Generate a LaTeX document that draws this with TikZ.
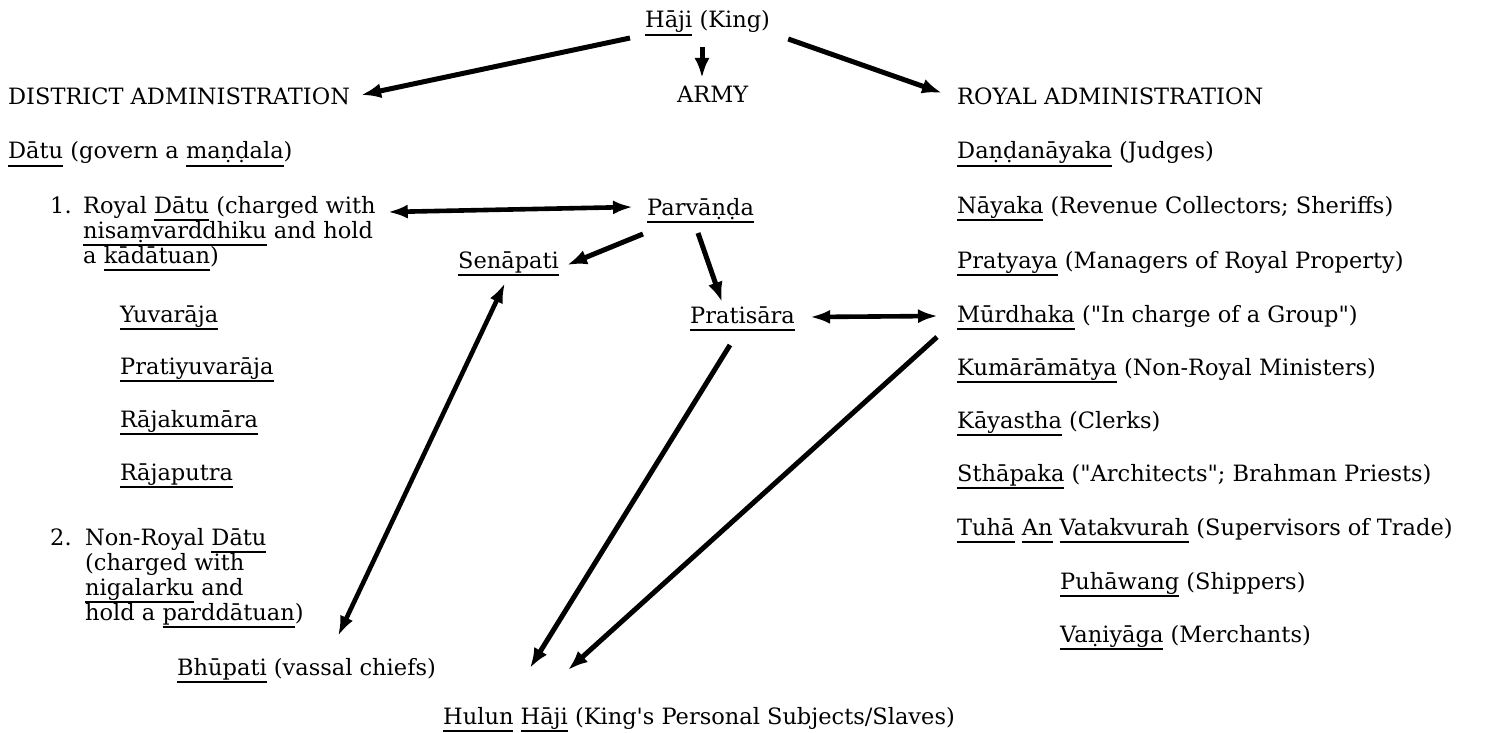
\documentclass[tikz,border=0pt]{standalone}
\usepackage{fontspec}
\setmainfont{DejaVu Serif}
\newfontfamily\qfont{DejaVu Serif}
\usetikzlibrary{arrows.meta,calc}
\newsavebox\ulbox
\newcommand\uln[1]{\sbox\ulbox{#1}\rlap{\rule[-0.34em]{\wd\ulbox}{0.065em}}\usebox\ulbox}
\newcommand\sq{{\qfont"}}
\newcommand\ap{{\qfont'}}
\begin{document}
\begin{tikzpicture}[x=1pt,y=-1pt,
  lbl/.style={anchor=base west,inner sep=0pt,font=\fontsize{22.5}{24}\selectfont},
  arr/.style={line width=5pt,-{Latex[length=20pt,width=15pt]}},
  darr/.style={line width=4.6pt,{Latex[length=20pt,width=14pt]}-{Latex[length=20pt,width=14pt]}}]
\useasboundingbox (0,0) rectangle (1492,733);
% top / middle
\node[lbl] (haji) at (645,28) {\uln{Hāji} (King)};
\node[lbl] (army) at (677,103) {ARMY};
\node[lbl] (parv) at (647,215) {\uln{Parvāṇḍa}};
\node[lbl] (sena) at (458,268) {\uln{Senāpati}};
\node[lbl] (prat) at (690,323) {\uln{Pratisāra}};
\node[lbl] (hulun) at (443,724) {\uln{Hulun} \uln{Hāji} (King\ap s Personal Subjects/Slaves)};
% left column
\node[lbl] (dist) at (8,105) {DISTRICT ADMINISTRATION};
\node[lbl] (datu) at (8,159) {\uln{Dātu} (govern a \uln{maṇḍala})};
\node[lbl] (n1) at (50,213) {1.};
\node[lbl] (rd1) at (83,213) {Royal \uln{Dātu} (charged with};
\node[lbl] (rd2) at (83,238) {\uln{nisaṃvarddhiku} and hold};
\node[lbl] (rd3) at (83,263) {a \uln{kādātuan})};
\node[lbl] (yuv) at (120,322) {\uln{Yuvarāja}};
\node[lbl] (pyuv) at (120,374) {\uln{Pratiyuvarāja}};
\node[lbl] (rkum) at (120,427) {\uln{Rājakumāra}};
\node[lbl] (rput) at (120,480) {\uln{Rājaputra}};
\node[lbl] (n2) at (50,545) {2.};
\node[lbl] (nr1) at (85,545) {Non-Royal \uln{Dātu}};
\node[lbl] (nr2) at (85,570) {(charged with};
\node[lbl] (nr3) at (85,595) {\uln{nigalarku} and};
\node[lbl] (nr4) at (85,620) {hold a \uln{parddātuan})};
\node[lbl] (bhu) at (177,675) {\uln{Bhūpati} (vassal chiefs)};
% right column
\node[lbl] (royal) at (957,105) {ROYAL ADMINISTRATION};
\node[lbl] (dand) at (957,159) {\uln{Daṇḍanāyaka} (Judges)};
\node[lbl] (naya) at (957,213) {\uln{Nāyaka} (Revenue Collectors; Sheriffs)};
\node[lbl] (praty) at (957,268) {\uln{Pratyaya} (Managers of Royal Property)};
\node[lbl] (murd) at (957,322) {\uln{Mūrdhaka} (\sq In charge of a Group\sq)};
\node[lbl] (kuma) at (957,375) {\uln{Kumārāmātya} (Non-Royal Ministers)};
\node[lbl] (kaya) at (957,428) {\uln{Kāyastha} (Clerks)};
\node[lbl] (stha) at (957,481) {\uln{Sthāpaka} (\sq Architects\sq; Brahman Priests)};
\node[lbl] (tuha) at (957,535) {\uln{Tuhā} \uln{An} \uln{Vatakvurah} (Supervisors of Trade)};
\node[lbl] (puha) at (1060,589) {\uln{Puhāwang} (Shippers)};
\node[lbl] (vani) at (1060,642) {\uln{Vaṇiyāga} (Merchants)};
% connectors
\draw[arr] ($(haji.base west)+(-15,10)$) -- ($(dist.base east)+(11,-10)$);
\draw[arr] ($(haji.base west)+(57,19)$) -- ($(army.base west)+(25,-25)$);
\draw[arr] ($(haji.base east)+(18,11)$) -- ($(royal.base west)+(-15,-12)$);
\draw[darr] ($(rd1.base east)+(12,-1)$) -- ($(parv.base west)+(-14,-8)$);
\draw[arr] ($(parv.base west)+(-4,19)$) -- ($(sena.base east)+(8,-3)$);
\draw[arr] ($(parv.base west)+(51,18)$) -- ($(prat.base west)+(32,-21)$);
\draw[darr] ($(prat.base east)+(15,-6)$) -- ($(murd.base west)+(-19,-6)$);
\draw[darr] ($(sena.base west)+(47,15)$) -- ($(bhu.base west)+(161,-39)$);
\draw[arr] ($(prat.base west)+(40,22)$) -- ($(hulun.base west)+(87,-56)$);
\draw[arr] ($(murd.base west)+(-20,15)$) -- ($(hulun.base west)+(125,-54)$);
\end{tikzpicture}
\end{document}
